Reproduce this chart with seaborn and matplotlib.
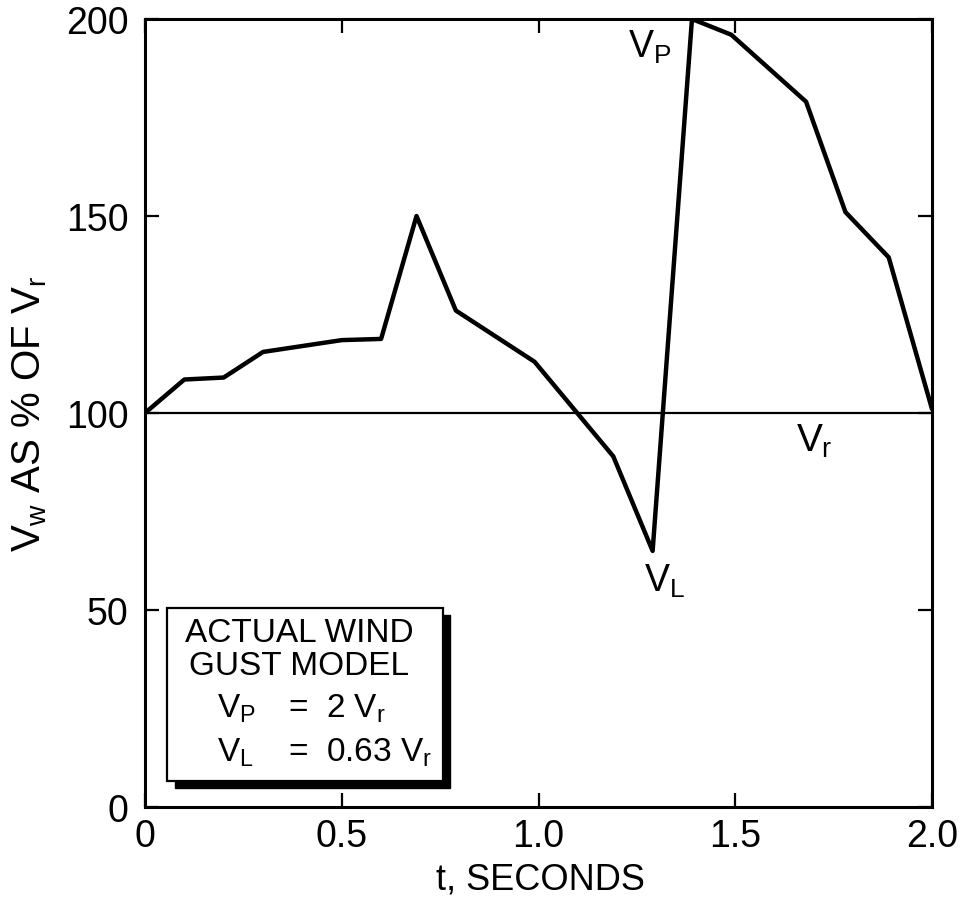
import pandas as pd
import seaborn as sns
import matplotlib.pyplot as plt
from matplotlib.patches import Rectangle

# gust model
t_sec = [0.0, 0.1, 0.2, 0.3, 0.4, 0.5, 0.6, 0.69, 0.79, 0.99, 1.19, 1.29,
         1.39, 1.49, 1.68, 1.78, 1.89, 2.0]
vw_pct = [100, 108.5, 109, 115.5, 117, 118.5, 118.8, 150, 126, 113, 89, 65,
          200, 196, 179, 151, 139.5, 101]
v_ref = 100

x_ticks = [0, 0.5, 1.0, 1.5, 2.0]
x_labels = ['0', '0.5', '1.0', '1.5', '2.0']
y_ticks = [0, 50, 100, 150, 200]
y_labels = ['0', '50', '100', '150', '200']

df = pd.DataFrame({'t': t_sec, 'vw': vw_pct})

sns.set_theme(style='ticks')
plt.rcParams['font.family'] = ['Liberation Sans', 'DejaVu Sans']
plt.rcParams['mathtext.fontset'] = 'custom'
plt.rcParams['mathtext.rm'] = 'Liberation Sans'
plt.rcParams['mathtext.it'] = 'Liberation Sans'
plt.rcParams['text.color'] = 'black'
plt.rcParams['axes.labelcolor'] = 'black'

fig = plt.figure(figsize=(9.66, 9.12), dpi=100)
ax = fig.add_axes([145 / 966, 1 - 808 / 912, 787 / 966, 788 / 912])

sns.lineplot(data=df, x='t', y='vw', color='black', linewidth=3.2, sort=False, ax=ax)
ax.axhline(v_ref, color='black', linewidth=1.6)

ax.set_xlim(0, 2)
ax.set_ylim(0, 200)
ax.set_xticks(x_ticks)
ax.set_xticklabels(x_labels)
ax.set_yticks(y_ticks)
ax.set_yticklabels(y_labels)
ax.tick_params(direction='in', length=10, width=1.6, top=True, right=True,
               labelsize=27, colors='black')
ax.tick_params(axis='y', pad=12)
ax.tick_params(axis='x', pad=8)
for s in ax.spines.values():
    s.set_linewidth(2.2)
    s.set_color('black')

ax.set_xlabel('')
ax.set_ylabel('')
fig.text(540 / 966, 1 - 880 / 912, 't, SECONDS', ha='center', va='center', fontsize=26)
fig.text(30 / 966, 1 - 414 / 912, '$V_w$ AS % OF $V_r$', rotation=90,
         ha='center', va='center', fontsize=29)

# curve labels
ax.text(1.283, 193, '$V_P$', fontsize=27, ha='center', va='center')
ax.text(1.32, 57.5, '$V_L$', fontsize=27, ha='center', va='center')
ax.text(1.70, 93, '$V_r$', fontsize=28, ha='center', va='center')

# inset box with shadow
ax.add_patch(Rectangle((0.075, 4.9), 0.701, 43.9, facecolor='black',
                       edgecolor='black', zorder=4))
ax.add_patch(Rectangle((0.056, 6.6), 0.701, 43.9, facecolor='white',
                       edgecolor='black', linewidth=1.6, zorder=5))
ax.text(0.391, 44.2, 'ACTUAL WIND', fontsize=24, ha='center', va='center', zorder=6)
ax.text(0.391, 36.0, 'GUST MODEL', fontsize=24, ha='center', va='center', zorder=6)
ax.text(0.183, 25.1, '$V_P$', fontsize=24, ha='left', va='center', zorder=6)
ax.text(0.363, 25.1, '=  2 $V_r$', fontsize=24, ha='left', va='center', zorder=6)
ax.text(0.183, 14.0, '$V_L$', fontsize=24, ha='left', va='center', zorder=6)
ax.text(0.363, 14.0, '=  0.63 $V_r$', fontsize=24, ha='left', va='center', zorder=6)

fig.savefig('out.png', dpi=100)
